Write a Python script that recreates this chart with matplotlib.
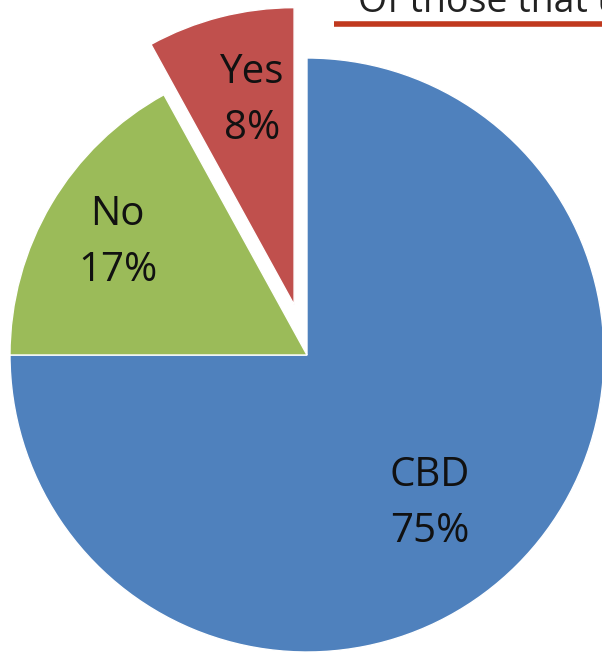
import numpy as np
import matplotlib
matplotlib.use("Agg")
import matplotlib.pyplot as plt

# --- data ---
LABELS = ["CBD", "No", "Yes"]
SHARES = [75, 17, 8]
COLORS = ["#4F81BD", "#9BBB59", "#C0504D"]
EXPLODE = [0, 0, 0.175]          # fraction of the radius
LABEL_DIST = [0.65, 0.74, 0.70]
LABEL_SHIFT = [-5.5, 0, -2.8]    # degrees, nudges label off the wedge bisector
TITLE = "Of those that use"

W, H = 602, 655
fig = plt.figure(figsize=(W / 100, H / 100), dpi=100)
ax = fig.add_axes([0, 0, 1, 1])

CX, CY, R = 307, H - 355, 297
wedges, _ = ax.pie(SHARES, colors=COLORS, explode=[e * R for e in EXPLODE],
                   startangle=90, counterclock=False, center=(CX, CY), radius=R,
                   wedgeprops=dict(edgecolor="white", linewidth=1.0), frame=True)
ax.set_xlim(0, W); ax.set_ylim(0, H)
ax.set_aspect("equal")
ax.axis("off")

for w, lab, val, d, s in zip(wedges, LABELS, SHARES, LABEL_DIST, LABEL_SHIFT):
    mid = np.deg2rad((w.theta1 + w.theta2) / 2 + s)
    cx, cy = w.center
    ax.text(cx + d * R * np.cos(mid), cy + d * R * np.sin(mid), f"{lab}\n{val}%",
            ha="center", va="center", fontsize=29, family="Open Sans",
            color="#111111", linespacing=1.5)

# cut-off heading + underline at the top
fig.text(358 / W, 1 - 12 / H, TITLE, ha="left", va="baseline", fontsize=27,
         family="Open Sans", color="#222222")
ax.plot([334, W], [H - 23.5, H - 23.5], color="#C0391E", linewidth=4,
        solid_capstyle="butt")

fig.savefig("out.png", dpi=100)
